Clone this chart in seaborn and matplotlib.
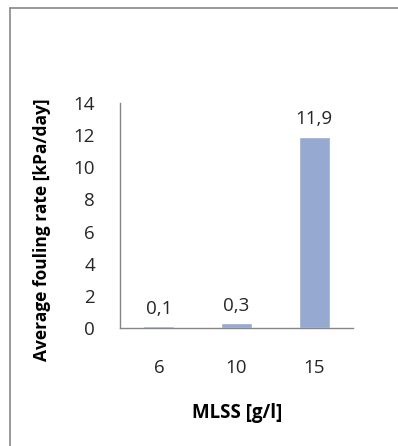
import matplotlib
matplotlib.use("Agg")
import matplotlib.pyplot as plt
import seaborn as sns
import pandas as pd
from matplotlib.lines import Line2D

mlss = ["6", "10", "15"]
fouling_rate = [0.1, 0.3, 11.9]
y_ticks = [0, 2, 4, 6, 8, 10, 12, 14]

sns.set_style("white")
plt.rcParams["font.family"] = ["Open Sans", "DejaVu Sans"]

df = pd.DataFrame({"MLSS": mlss, "rate": fouling_rate})

W, H = 398, 446
fig = plt.figure(figsize=(W / 100, H / 100), dpi=100)
ax = fig.add_axes([120 / W, 1 - 328 / H, 233 / W, 225 / H])

sns.barplot(data=df, x="MLSS", y="rate", order=mlss, color="#95A9D1",
            saturation=1, width=0.4, ax=ax)

gray = "#868686"
text_col = "#262626"
fs = 13.5

ax.set_ylim(0, 14)
ax.set_xlim(-0.5, 2.5)
ax.set_yticks(y_ticks)
ax.set_yticklabels([str(v) for v in y_ticks], fontsize=fs, color=text_col)
ax.set_xticks(range(len(mlss)))
ax.set_xticklabels(mlss, fontsize=fs, color=text_col)
ax.set_xticks([-0.5, 0.5, 1.5, 2.5], minor=True)
ax.tick_params(axis="x", which="major", length=0, pad=22)
ax.tick_params(axis="x", which="minor", length=6, width=1, color=gray, direction="out")
ax.tick_params(axis="y", length=6, width=1, color=gray, direction="out", pad=12)

for side in ["top", "right"]:
    ax.spines[side].set_visible(False)
for side in ["left", "bottom"]:
    ax.spines[side].set_color(gray)
    ax.spines[side].set_linewidth(1)

for i, v in enumerate(fouling_rate):
    ax.annotate(f"{v:.1f}".replace(".", ","), (i, v), xytext=(0, 6),
                textcoords="offset points", ha="center", va="bottom",
                fontsize=fs, color=text_col)

ax.set_xlabel("MLSS [g/l]", fontsize=fs, fontweight="bold", color="black")
ax.set_ylabel("Average fouling rate [kPa/day]", fontsize=12.5, fontweight="bold",
              color="black")
ax.xaxis.set_label_coords((237 - 120) / 233, -(413 - 328) / 225)
ax.yaxis.set_label_coords(-(120 - 42) / 233, (328 - 230) / 225)
ax.xaxis.label.set_va("center")
ax.yaxis.label.set_va("center")

# frame lines along the left and top edges of the figure
fig.lines.append(Line2D([9.5 / W, 9.5 / W], [0, 1 - 8 / H], transform=fig.transFigure,
                        color="#888888", linewidth=1.2))
fig.lines.append(Line2D([9.5 / W, 1], [1 - 8 / H, 1 - 8 / H], transform=fig.transFigure,
                        color="#888888", linewidth=1.2))

fig.savefig("out.png", dpi=100)
